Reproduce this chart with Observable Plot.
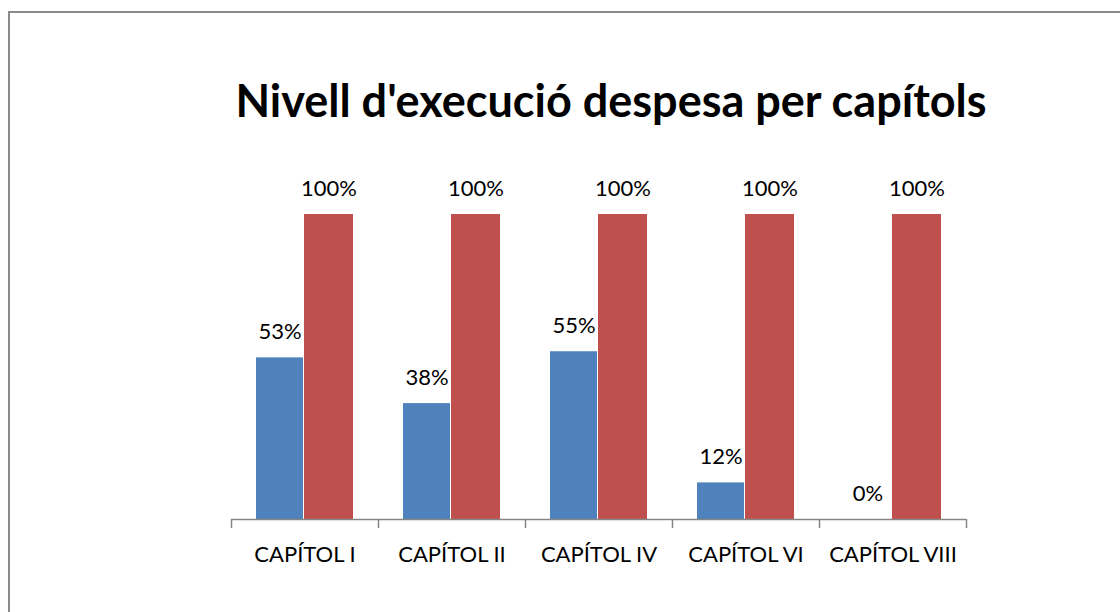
<!DOCTYPE html>
<html>
<head>
<meta charset="utf-8">
<script src="https://cdn.jsdelivr.net/npm/d3@7"></script>
<script src="https://cdn.jsdelivr.net/npm/@observablehq/plot@0.6"></script>
<style>
  html, body { margin: 0; padding: 0; background: #fff; }
  #wrap { position: relative; width: 1120px; height: 612px; overflow: hidden; background: #fff; }
  #frame { position: absolute; left: 8px; top: 11px; width: 1300px; height: 800px;
           border-left: 2px solid #8a8a8a; border-top: 2px solid #8a8a8a; }
  #title { position: absolute; left: 0; top: 74px; width: 1222px; text-align: center;
           font-family: Lato, "Open Sans", sans-serif; font-weight: bold; font-size: 45px;
           line-height: 52px; color: #000; white-space: nowrap; }
  #chart { position: absolute; left: 0; top: 0; }
</style>
</head>
<body>
<div id="wrap">
  <div id="frame"></div>
  <div id="chart"></div>
  <div id="title">Nivell d'execució despesa per capítols</div>
</div>
<script>
const categories = ["CAPÍTOL I", "CAPÍTOL II", "CAPÍTOL IV", "CAPÍTOL VI", "CAPÍTOL VIII"];
const execucio = [0.53, 0.38, 0.55, 0.12, 0];
const pressupost = [1, 1, 1, 1, 1];

const rows = categories.map((c, i) => ({cat: c, i, execucio: execucio[i], pressupost: pressupost[i]}));
const edges = d3.range(categories.length + 1);

const W = 1120, H = 612;
const mL = 231, mR = 154, mT = 214, mB = 93;
const plotH = H - mT - mB;
const pct = d3.format(".0%");
const axisColor = "#868686";

const chart = Plot.plot({
  width: W, height: H,
  marginLeft: mL, marginRight: mR, marginTop: mT, marginBottom: mB,
  x: {domain: [0, categories.length], axis: null},
  y: {domain: [0, 1], axis: null},
  style: {fontFamily: "Lato, 'Open Sans', sans-serif", fontSize: "22px", color: "#000", background: "transparent"},
  marks: [
    Plot.rectY(rows, {x1: "i", x2: d => d.i + 1, y: "execucio", fill: "#4F81BD", insetLeft: 25, insetRight: 75}),
    Plot.rectY(rows, {x1: "i", x2: d => d.i + 1, y: "pressupost", fill: "#C0504D", insetLeft: 73, insetRight: 25}),
    Plot.ruleY([0], {stroke: axisColor, strokeWidth: 1.5}),
    Plot.ruleX(edges, {x: d => d, stroke: axisColor, strokeWidth: 1.5, insetTop: plotH, insetBottom: -9}),
    Plot.text(rows, {x: d => d.i + 0.5, y: "execucio", text: d => pct(d.execucio), dx: -25, dy: -19, lineAnchor: "bottom", fill: "#000"}),
    Plot.text(rows, {x: d => d.i + 0.5, y: "pressupost", text: d => pct(d.pressupost), dx: 24, dy: -19, lineAnchor: "bottom", fill: "#000"}),
    Plot.text(rows, {x: d => d.i + 0.5, frameAnchor: "bottom", text: "cat", dy: 35, lineAnchor: "middle", fill: "#000"})
  ]
});
document.getElementById("chart").appendChild(chart);
</script>
</body>
</html>
